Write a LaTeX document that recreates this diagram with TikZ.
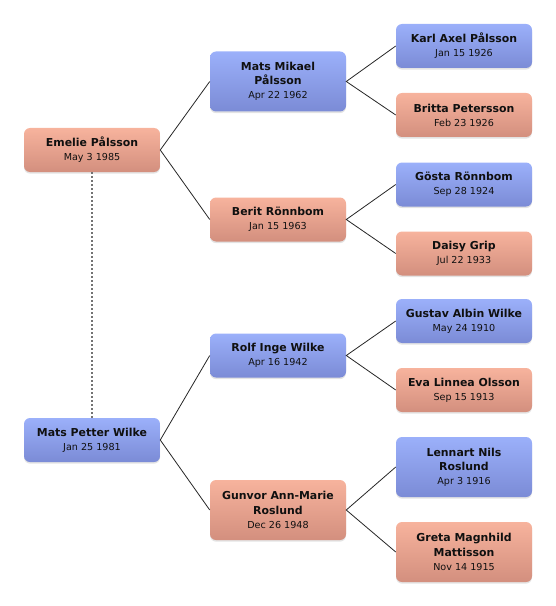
\documentclass[tikz,border=0pt]{standalone}
\usepackage{fontspec}
\setmainfont{DejaVu Sans}
\usetikzlibrary{shadows}
\definecolor{bluetop}{HTML}{9BB0FA}
\definecolor{bluebot}{HTML}{7B8BD6}
\definecolor{pinktop}{HTML}{F7B39D}
\definecolor{pinkbot}{HTML}{D38F7E}
\definecolor{txt}{HTML}{101010}
\newcommand\pname[1]{{\fontsize{8.2}{10.6}\selectfont\bfseries #1}}
\newcommand\pdate[1]{{\fontsize{7.2}{10.6}\selectfont #1}}
\begin{document}
\begin{tikzpicture}[x=0.75pt,y=-0.75pt,
  personbox/.style={rounded corners=4.5pt, minimum width=102pt, minimum height=33pt,
    align=center, text=txt, inner sep=2pt, font=\fontsize{8.2}{10.6}\selectfont,
    drop shadow={opacity=0.22, shadow xshift=0pt, shadow yshift=-1.2pt}},
  tall/.style={minimum height=45pt},
  male/.style={personbox, top color=bluetop, bottom color=bluebot},
  female/.style={personbox, top color=pinktop, bottom color=pinkbot},
  link/.style={draw=black!85, line width=0.6pt},
  spouse/.style={draw=black!55, line width=1.3pt, dash pattern=on 1.5pt off 1.5pt}]
\useasboundingbox (0,0) rectangle (556,606);
% level 0
\node[female] (emelie) at (92,150) {\pname{Emelie Pålsson}\\\pdate{May 3 1985}};
\node[male] (matsp) at (92,440) {\pname{Mats Petter Wilke}\\\pdate{Jan 25 1981}};
% level 1
\node[male,tall] (matsm) at (278,81.5) {\pname{Mats Mikael}\\\pname{Pålsson}\\\pdate{Apr 22 1962}};
\node[female] (berit) at (278,219.5) {\pname{Berit Rönnbom}\\\pdate{Jan 15 1963}};
\node[male] (rolf) at (278,355.5) {\pname{Rolf Inge Wilke}\\\pdate{Apr 16 1942}};
\node[female,tall] (gunvor) at (278,510) {\pname{Gunvor Ann-Marie}\\\pname{Roslund}\\\pdate{Dec 26 1948}};
% level 2
\node[male] (karl) at (464,46) {\pname{Karl Axel Pålsson}\\\pdate{Jan 15 1926}};
\node[female] (britta) at (464,115) {\pname{Britta Petersson}\\\pdate{Feb 23 1926}};
\node[male] (gosta) at (464,184.5) {\pname{Gösta Rönnbom}\\\pdate{Sep 28 1924}};
\node[female] (daisy) at (464,253.5) {\pname{Daisy Grip}\\\pdate{Jul 22 1933}};
\node[male] (gustav) at (464,321) {\pname{Gustav Albin Wilke}\\\pdate{May 24 1910}};
\node[female] (eva) at (464,390) {\pname{Eva Linnea Olsson}\\\pdate{Sep 15 1913}};
\node[male,tall] (lennart) at (464,467) {\pname{Lennart Nils}\\\pname{Roslund}\\\pdate{Apr 3 1916}};
\node[female,tall] (greta) at (464,552) {\pname{Greta Magnhild}\\\pname{Mattisson}\\\pdate{Nov 14 1915}};
% connectors
\draw[spouse] (emelie.south) -- (matsp.north);
\draw[link] (matsm.west) -- (emelie.east) -- (berit.west);
\draw[link] (rolf.west) -- (matsp.east) -- (gunvor.west);
\draw[link] (karl.west) -- (matsm.east) -- (britta.west);
\draw[link] (gosta.west) -- (berit.east) -- (daisy.west);
\draw[link] (gustav.west) -- (rolf.east) -- (eva.west);
\draw[link] (lennart.west) -- (gunvor.east) -- (greta.west);
\end{tikzpicture}
\end{document}
